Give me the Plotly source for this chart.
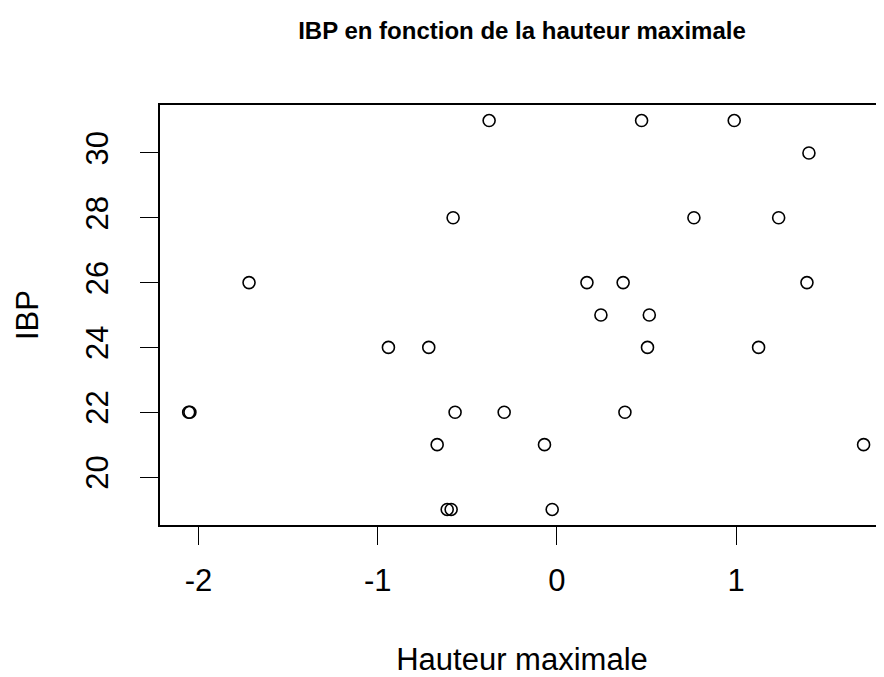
import plotly.graph_objects as go

# Data
hauteur = [-0.378, 0.473, 0.990, 1.407, -0.579, 0.765, 1.238, -1.718, 0.168, 0.370,
           1.396, 0.246, 0.516, -0.940, -0.715, 0.506, 1.126, -2.055, -2.048, -0.568,
           -0.294, 0.380, -0.668, -0.069, 1.712, -0.612, -0.590, -0.026]
ibp = [31, 31, 31, 30, 28, 28, 28, 26, 26, 26,
       26, 25, 25, 24, 24, 24, 24, 22, 22, 22,
       22, 22, 21, 21, 21, 19, 19, 19]

x_ticks = [-2, -1, 0, 1]
y_ticks = [20, 22, 24, 26, 28, 30]

FONT = "Liberation Sans, Arial, sans-serif"

# page body has an 8px margin, so the figure is 8px smaller on each axis
W, H = 876, 669

fig = go.Figure()
fig.add_trace(go.Scatter(
    x=hauteur, y=ibp, mode="markers",
    marker=dict(symbol="circle-open", size=12, color="black",
                line=dict(width=1.6, color="black")),
    showlegend=False, hoverinfo="x+y",
))

fig.update_layout(
    width=W, height=H,
    paper_bgcolor="white", plot_bgcolor="white",
    margin=dict(l=152, r=0, t=97, b=152),
    font=dict(family=FONT, color="black"),
    title=dict(text="<b>IBP en fonction de la hauteur maximale</b>",
               font=dict(size=24, family=FONT, color="black"),
               x=0.5, xref="paper", xanchor="center",
               y=1 - 23 / H, yref="container", yanchor="middle"),
)

fig.update_xaxes(
    range=[-2.215, 1.826], tickvals=x_ticks, ticktext=[str(v) for v in x_ticks],
    showgrid=False, zeroline=False,
    showline=True, linecolor="black", linewidth=1.5, mirror=True,
    ticks="outside", ticklen=18, tickwidth=1.3, tickcolor="black",
    ticklabelstandoff=9,
    tickfont=dict(size=31, family=FONT, color="black"),
    title=dict(text="Hauteur maximale", font=dict(size=31, family=FONT, color="black"),
               standoff=65),
    automargin=False,
)
fig.update_yaxes(
    range=[18.52, 31.48], tickvals=y_ticks, ticktext=[str(v) for v in y_ticks],
    showgrid=False, zeroline=False,
    showline=True, linecolor="black", linewidth=1.5, mirror=False,
    ticks="outside", ticklen=18, tickwidth=1.3, tickcolor="black",
    tickangle=-90, ticklabelstandoff=20,
    tickfont=dict(size=31, family=FONT, color="black"),
    title=dict(text="IBP", font=dict(size=31, family=FONT, color="black"),
               standoff=32),
    automargin=False,
)

fig.write_html("out.html")
